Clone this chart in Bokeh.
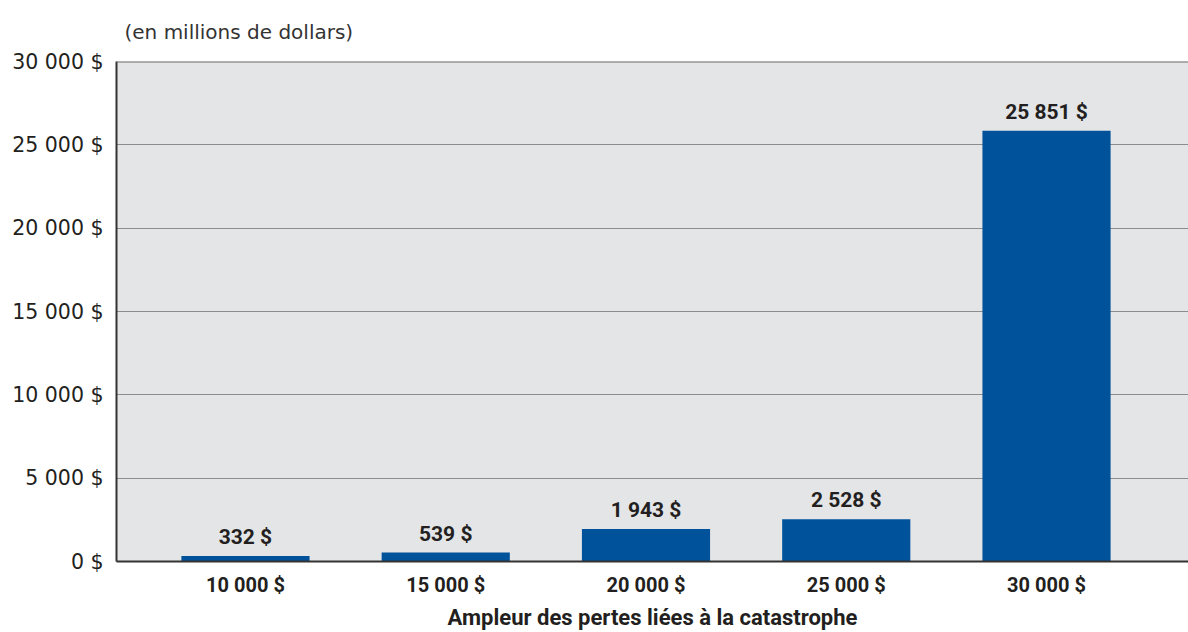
from bokeh.plotting import figure
from bokeh.models import Range1d, FixedTicker, Span, ColumnDataSource, LabelSet
from bokeh.core.properties import value
from bokeh.embed import file_html
from bokeh.resources import INLINE

# ---- data ----
categories = ["10 000 $", "15 000 $", "20 000 $", "25 000 $", "30 000 $"]
values = [332, 539, 1943, 2528, 25851]
value_labels = ["332 $", "539 $", "1 943 $", "2 528 $", "25 851 $"]
y_ticks = [0, 5000, 10000, 15000, 20000, 25000, 30000]
y_tick_labels = ["0 $", "5 000 $", "10 000 $", "15 000 $", "20 000 $", "25 000 $", "30 000 $"]
subtitle = "(en millions de dollars)"
x_title = "Ampleur des pertes liées à la catastrophe"

positions = list(range(len(categories)))
src = ColumnDataSource(dict(x=positions, top=values, lab=value_labels))

p = figure(width=1188, height=632, output_backend="svg", toolbar_location=None,
           x_range=Range1d(-0.644, 4.709), y_range=Range1d(0, 30000),
           min_border_left=116, min_border_right=0, min_border_top=60, min_border_bottom=71)

p.background_fill_color = "#e4e5e7"
p.border_fill_color = "white"
p.outline_line_color = None

p.vbar(x="x", top="top", bottom=0, width=0.64, source=src,
       fill_color="#00529b", line_color=None)

p.add_layout(LabelSet(x="x", y="top", text="lab", source=src, y_offset=12,
                      text_align="center", text_baseline="alphabetic",
                      text_font=value("Roboto"), text_font_style="bold",
                      text_font_size="21px", text_color="#231f20"))

p.add_layout(Span(location=30000, dimension="width", line_color="#6e6e6e", line_width=2))

# grid
p.xgrid.grid_line_color = None
p.ygrid.ticker = FixedTicker(ticks=y_ticks)
p.ygrid.grid_line_color = "#8c8c8c"
p.ygrid.grid_line_width = 1

# y axis
ya = p.yaxis[0]
ya.ticker = FixedTicker(ticks=y_ticks)
ya.major_label_overrides = {t: l for t, l in zip(y_ticks, y_tick_labels)}
ya.axis_line_color = "#333333"
ya.axis_line_width = 2
ya.major_tick_line_color = None
ya.minor_tick_line_color = None
ya.major_label_standoff = 7
ya.major_label_text_font = "DejaVu Sans"
ya.major_label_text_font_size = "20.5px"
ya.major_label_text_color = "#231f20"

# x axis
xa = p.xaxis[0]
xa.ticker = FixedTicker(ticks=positions)
xa.major_label_overrides = {i: c for i, c in zip(positions, categories)}
xa.axis_line_color = "#333333"
xa.axis_line_width = 2
xa.major_tick_line_color = None
xa.minor_tick_line_color = None
xa.major_label_standoff = 5
xa.major_label_text_font = "Roboto"
xa.major_label_text_font_style = "bold"
xa.major_label_text_font_size = "20px"
xa.major_label_text_color = "#231f20"
xa.axis_label = x_title
xa.axis_label_standoff = 5
xa.axis_label_text_font = "Roboto"
xa.axis_label_text_font_style = "bold"
xa.axis_label_text_font_size = "22px"
xa.axis_label_text_color = "#231f20"

# subtitle
p.title.text = subtitle
p.title.align = "left"
p.title.offset = 8
p.title.standoff = 35
p.title.text_font = "DejaVu Sans"
p.title.text_font_style = "normal"
p.title.text_font_size = "20px"
p.title.text_color = "#333333"

open("out.html", "w").write(file_html(p, INLINE))
